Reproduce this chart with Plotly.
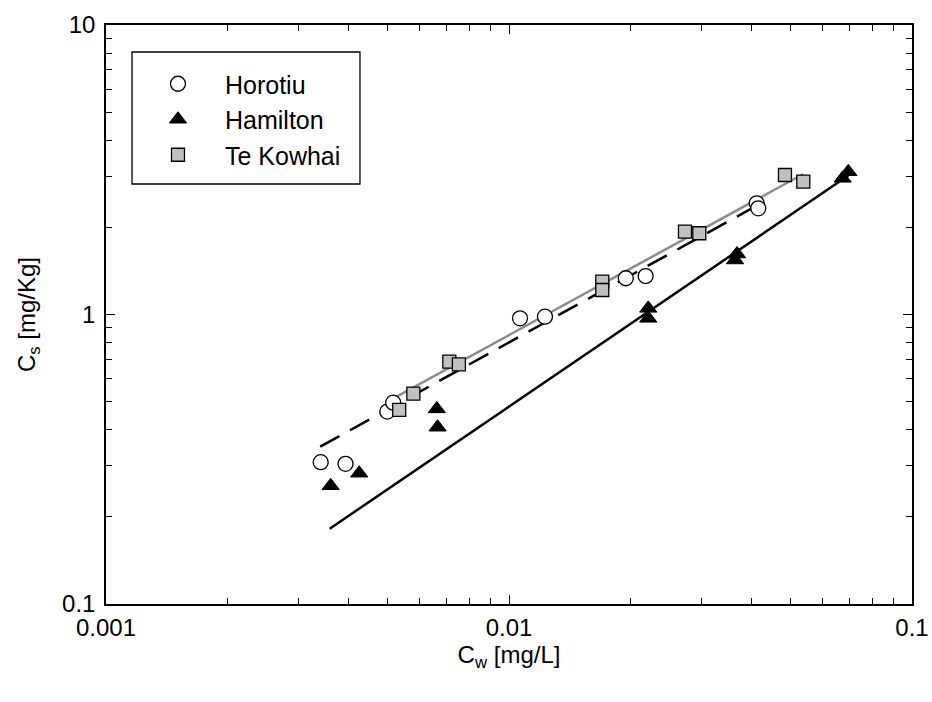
import plotly.graph_objects as go

# Horotiu (open circles)
horotiu_x = [0.00341, 0.00393, 0.00499, 0.00516, 0.01065, 0.01228, 0.01949, 0.02183, 0.04117, 0.04155]
horotiu_y = [0.309, 0.305, 0.462, 0.496, 0.970, 0.983, 1.334, 1.358, 2.421, 2.327]

# Hamilton (filled triangles)
hamilton_x = [0.00361, 0.00425, 0.00662, 0.00665, 0.02216, 0.02216, 0.03680, 0.03638, 0.0695, 0.0673]
hamilton_y = [0.256, 0.283, 0.472, 0.408, 1.05, 0.970, 1.618, 1.543, 3.113, 2.954]

# Te Kowhai (grey squares)
tekowhai_x = [0.00534, 0.00579, 0.00711, 0.00751, 0.01704, 0.01704, 0.02733, 0.02966, 0.04839, 0.05373]
tekowhai_y = [0.468, 0.533, 0.687, 0.673, 1.298, 1.215, 1.932, 1.908, 3.033, 2.875]

# Fitted lines (endpoints)
fit_hamilton_x = [0.00359, 0.0695]
fit_hamilton_y = [0.182, 3.02]
fit_horotiu_x = [0.00340, 0.0415]
fit_horotiu_y = [0.3495, 2.39]
fit_tekowhai_x = [0.00526, 0.0537]
fit_tekowhai_y = [0.520, 3.057]

x_tickvals = [0.001, 0.01, 0.1]
x_ticktext = ["0.001", "0.01", "0.1"]
y_tickvals = [0.1, 1, 10]
y_ticktext = ["0.1", "1", "10"]
x_minor = [0.002, 0.003, 0.004, 0.005, 0.006, 0.007, 0.008, 0.009,
           0.02, 0.03, 0.04, 0.05, 0.06, 0.07, 0.08, 0.09]
y_minor = [0.2, 0.3, 0.4, 0.5, 0.6, 0.7, 0.8, 0.9, 2, 3, 4, 5, 6, 7, 8, 9]

fig = go.Figure()

fig.add_trace(go.Scatter(x=fit_tekowhai_x, y=fit_tekowhai_y, mode="lines",
                         line=dict(color="#8c8c8c", width=2.5), showlegend=False, hoverinfo="skip"))
fig.add_trace(go.Scatter(x=fit_horotiu_x, y=fit_horotiu_y, mode="lines",
                         line=dict(color="black", width=2.5, dash="22px,12px"), showlegend=False, hoverinfo="skip"))
fig.add_trace(go.Scatter(x=fit_hamilton_x, y=fit_hamilton_y, mode="lines",
                         line=dict(color="black", width=2.5), showlegend=False, hoverinfo="skip"))

fig.add_trace(go.Scatter(x=horotiu_x, y=horotiu_y, mode="markers", name="Horotiu",
                         marker=dict(symbol="circle", size=15, color="white",
                                     line=dict(color="black", width=1.3))))
fig.add_trace(go.Scatter(x=hamilton_x, y=hamilton_y, mode="markers", name="Hamilton",
                         marker=dict(symbol="triangle-up", size=15, color="black",
                                     line=dict(color="black", width=1))))
fig.add_trace(go.Scatter(x=tekowhai_x, y=tekowhai_y, mode="markers", name="Te Kowhai",
                         marker=dict(symbol="square", size=13, color="#c0c0c0",
                                     line=dict(color="black", width=1.3))))

font_family = "Liberation Sans, Arial, sans-serif"

axis_common = dict(
    type="log", showline=True, linecolor="black", linewidth=1.5, mirror="ticks",
    ticks="inside", ticklen=9, tickwidth=1.3, tickcolor="black", showgrid=False, zeroline=False,
    tickfont=dict(family=font_family, size=24, color="black"),
    automargin=False,
)

# legend frame (paper coordinates)
fig.add_shape(type="rect", xref="paper", yref="paper",
              x0=0.0323, x1=0.3151, y0=0.7254, y1=0.9534,
              line=dict(color="black", width=1.3), fillcolor="white", layer="above")

fig.update_layout(
    width=932, height=702,
    margin=dict(l=106, r=20, t=25, b=98),
    paper_bgcolor="white", plot_bgcolor="white",
    font=dict(family=font_family, size=24, color="black"),
    xaxis=dict(range=[-3, -1], tickvals=x_tickvals, ticktext=x_ticktext,
               minor=dict(ticks="inside", ticklen=6, tickwidth=1.3, tickcolor="black",
                          showgrid=False, tickvals=x_minor),
               ticklabelstandoff=1,
               title=dict(text="C<sub>w</sub> [mg/L]", font=dict(size=24), standoff=6),
               **axis_common),
    yaxis=dict(range=[-1, 1], tickvals=y_tickvals, ticktext=y_ticktext,
               minor=dict(ticks="inside", ticklen=6, tickwidth=1.3, tickcolor="black",
                          showgrid=False, tickvals=y_minor),
               ticklabelstandoff=4,
               title=dict(text="C<sub>s</sub> [mg/Kg]", font=dict(size=24), standoff=20),
               **axis_common),
    legend=dict(x=0.031, y=0.9378, xanchor="left", yanchor="top",
                bgcolor="rgba(0,0,0,0)", borderwidth=0,
                font=dict(family=font_family, size=25, color="black"),
                itemwidth=84, tracegroupgap=0),
    showlegend=True,
)

fig.write_html("out.html")
